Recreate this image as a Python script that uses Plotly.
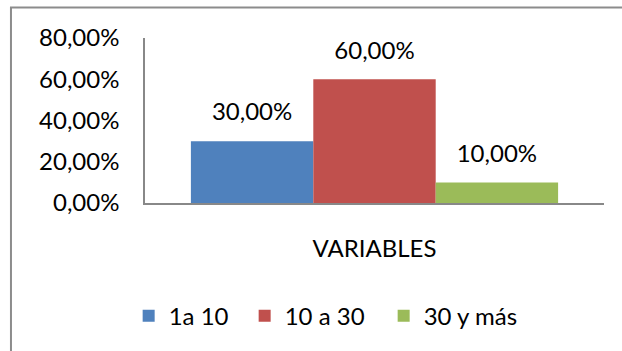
import plotly.graph_objects as go

# Chart data
category = ["VARIABLES"]
series_names = ["1a 10", "10 a 30", "30 y más"]
series_values = [0.30, 0.60, 0.10]
series_colors = ["#4F81BD", "#C0504D", "#9BBB59"]
legend_widths = [71, 94, 96]
y_ticks = [0.0, 0.2, 0.4, 0.6, 0.8]

FONT = "Lato"
FS = 24

fig = go.Figure()
for name, val, col, lw in zip(series_names, series_values, series_colors, legend_widths):
    fig.add_trace(go.Bar(
        name=name,
        x=category,
        y=[val],
        offsetgroup=name,
        marker=dict(color=col, line=dict(width=0)),
        legendwidth=lw,
    ))

# Value labels: text-only scatter points grouped like the bars, lifted by an
# invisible marker so the label floats above each bar top.
for name, val in zip(series_names, series_values):
    fig.add_trace(go.Scatter(
        x=category,
        y=[val],
        offsetgroup=name,
        mode="markers+text",
        marker=dict(size=22, opacity=0),
        texttemplate="%{y:.2%}",
        textposition="top center",
        textfont=dict(family=FONT, size=FS, color="#000000"),
        showlegend=False,
        hoverinfo="skip",
        cliponaxis=False,
    ))

fig.update_layout(
    width=622,
    height=351,
    margin=dict(l=145, r=18, t=38, b=148),
    paper_bgcolor="white",
    plot_bgcolor="white",
    separators=",.",
    barmode="group",
    scattermode="group",
    bargap=0.2,
    bargroupgap=0,
    scattergap=0.2,
    font=dict(family=FONT, size=FS, color="#000000"),
    showlegend=True,
    legend=dict(
        orientation="h",
        x=-0.0356, xanchor="left",
        y=-0.685, yanchor="middle",
        font=dict(family=FONT, size=FS, color="#000000"),
        bgcolor="rgba(0,0,0,0)",
        itemclick=False,
    ),
    xaxis=dict(
        showline=True, linecolor="#888888", linewidth=2,
        showgrid=False, zeroline=False, ticks="",
        ticklabelstandoff=23,
        tickfont=dict(family=FONT, size=FS, color="#000000"),
    ),
    yaxis=dict(
        range=[0, 0.8],
        tickvals=y_ticks,
        tickformat=".2%",
        showline=True, linecolor="#888888", linewidth=1.5,
        showgrid=False, zeroline=False, ticks="",
        ticklabelstandoff=19,
        tickfont=dict(family=FONT, size=FS, color="#000000"),
    ),
    shapes=[dict(
        type="rect", xref="paper", yref="paper",
        x0=-0.292, x1=1.1, y0=-1.0, y1=1.185,
        line=dict(color="#8C8C8C", width=2),
        fillcolor="rgba(0,0,0,0)", layer="below",
    )],
)

fig.write_html("out.html")
